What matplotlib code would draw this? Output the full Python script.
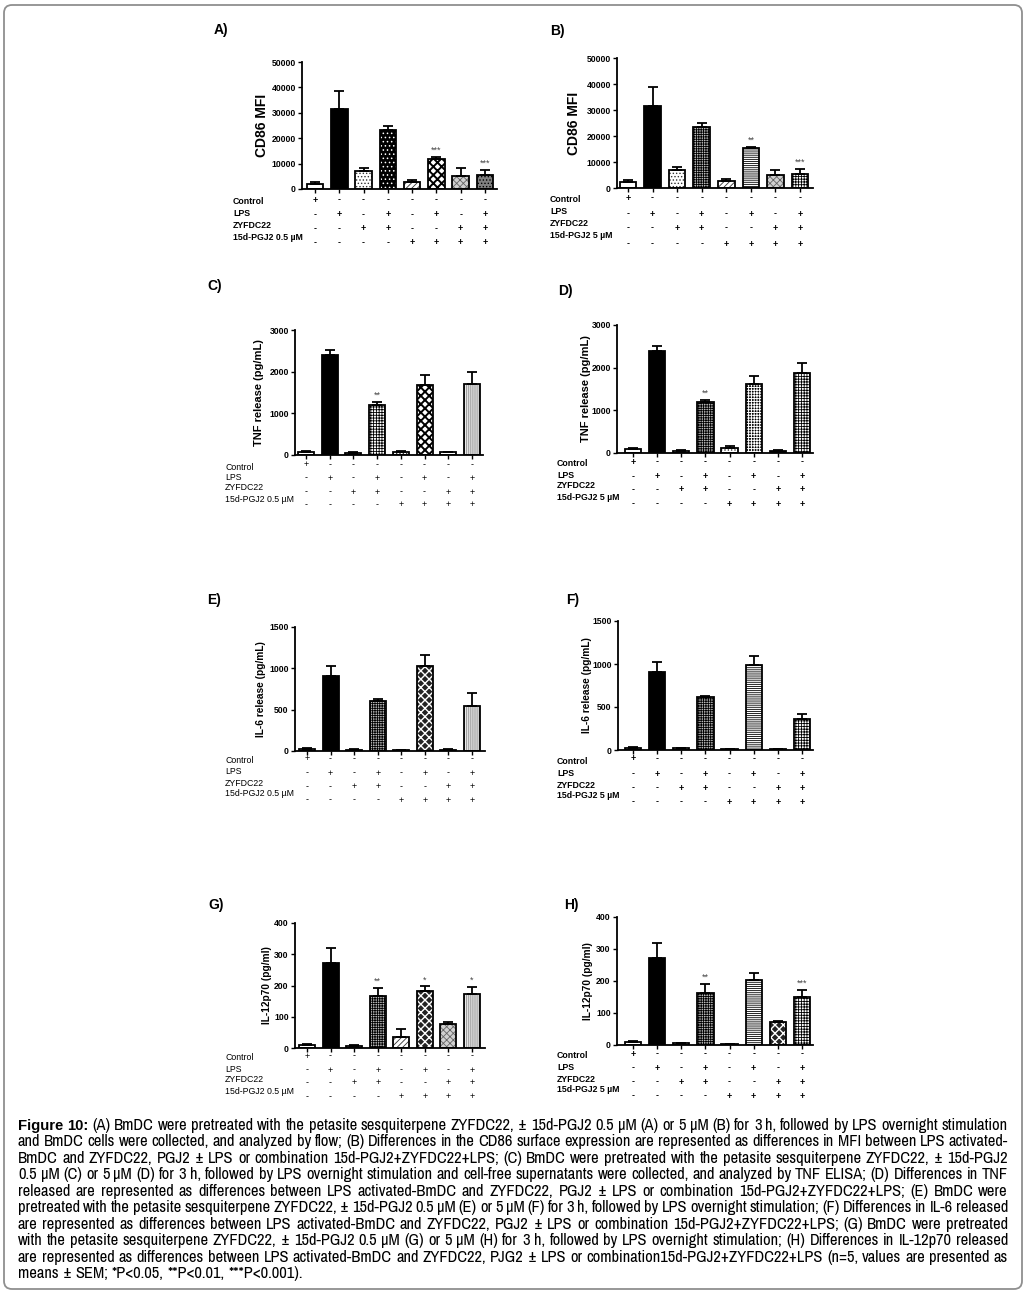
import matplotlib
matplotlib.use('Agg')
import math
import matplotlib.pyplot as plt
import numpy as np
from matplotlib import transforms as mtrans
from matplotlib.patches import FancyBboxPatch
from matplotlib import font_manager as fm
from matplotlib.font_manager import FontProperties

W, H = 1027, 1293
plt.rcParams['font.family'] = ['Liberation Sans', 'DejaVu Sans']
plt.rcParams['hatch.linewidth'] = 0.6

# ---------------- data ----------------
row_names = ['Control', 'LPS', 'ZYFDC22']
dose_low = '15d-PGJ2 0.5 µM'
dose_high = '15d-PGJ2 5 µM'
control_signs = ['+', '-', '-', '-', '-', '-', '-', '-']
lps_signs = ['-', '+', '-', '+', '-', '+', '-', '+']
zyfdc_signs = ['-', '-', '+', '+', '-', '-', '+', '+']
pgj2_signs = ['-', '-', '-', '-', '+', '+', '+', '+']

A_mean = [1800, 31400, 7050, 23400, 2900, 12000, 5200, 5500]
A_sem = [800, 7100, 1050, 1500, 600, 700, 2900, 2000]
A_sig = ['', '', '', '', '', '***', '', '***']

B_mean = [2200, 31700, 7050, 23600, 2800, 15300, 4900, 5400]
B_sem = [700, 7100, 1050, 1400, 800, 600, 1900, 1800]
B_sig = ['', '', '', '', '', '**', '', '***']

C_mean = [65, 2390, 55, 1200, 70, 1690, 64, 1710]
C_sem = [30, 140, 15, 65, 35, 230, 16, 290]
C_sig = ['', '', '', '**', '', '', '', '']

D_mean = [85, 2380, 47, 1200, 125, 1610, 40, 1865]
D_sem = [25, 130, 13, 45, 40, 205, 40, 250]
D_sig = ['', '', '', '**', '', '', '', '']

E_mean = [28, 909, 16, 607, 12, 1030, 12, 547]
E_sem = [8, 121, 8, 20, 4, 136, 8, 157]
E_sig = ['', '', '', '', '', '', '', '']

F_mean = [27, 903, 19, 612, 12, 984, 12, 364]
F_sem = [12, 116, 8, 20, 4, 113, 4, 51]
F_sig = ['', '', '', '', '', '', '', '']

G_mean = [10, 273, 7.5, 165, 35, 184, 78, 174]
G_sem = [2, 47, 2.5, 28, 27, 13, 5, 22]
G_sig = ['', '', '', '**', '', '*', '', '*']

H_mean = [9, 273, 6, 164, 3, 203, 71, 150]
H_sem = [2, 46, 1, 28, 1, 22, 5, 22]
H_sig = ['', '', '', '**', '', '', '', '***']

caption_lines = [
    "Figure 10: (A) BmDC were pretreated with the petasite sesquiterpene ZYFDC22, ± 15d-PGJ2 0.5 μM (A) or 5 μM (B) for 3 h, followed by LPS overnight stimulation",
    "and BmDC cells were collected, and analyzed by flow; (B) Differences in the CD86 surface expression are represented as differences in MFI between LPS activated-",
    "BmDC and ZYFDC22, PGJ2 ± LPS or combination 15d-PGJ2+ZYFDC22+LPS; (C) BmDC were pretreated with the petasite sesquiterpene ZYFDC22, ± 15d-PGJ2",
    "0.5 μM (C) or 5 μM (D) for 3 h, followed by LPS overnight stimulation and cell-free supernatants were collected, and analyzed by TNF ELISA; (D) Differences in TNF",
    "released are represented as differences between LPS activated-BmDC and ZYFDC22, PGJ2 ± LPS or combination 15d-PGJ2+ZYFDC22+LPS; (E) BmDC were",
    "pretreated with the petasite sesquiterpene ZYFDC22, ± 15d-PGJ2 0.5 μM (E) or 5 μM (F) for 3 h, followed by LPS overnight stimulation; (F) Differences in IL-6 released",
    "are represented as differences between LPS activated-BmDC and ZYFDC22, PGJ2 ± LPS or combination 15d-PGJ2+ZYFDC22+LPS; (G) BmDC were pretreated",
    "with the petasite sesquiterpene ZYFDC22, ± 15d-PGJ2 0.5 μM (G) or 5 μM (H) for 3 h, followed by LPS overnight stimulation; (H) Differences in IL-12p70 released",
    "are represented as differences between LPS activated-BmDC and ZYFDC22, PJG2 ± LPS or combination15d-PGJ2+ZYFDC22+LPS (n=5, values are presented as",
    "means ± SEM; *P<0.05, **P<0.01, ***P<0.001).",
]

# ---------------- styles ----------------
# name: (facecolor, hatch, hatch colour, hatch linewidth)
PATTERNS = {
    'open': ('white', None, 'black', 0.6),
    'solid': ('black', None, 'black', 0.6),
    'dots': ('white', '.....', '#333333', 0.6),
    'darkdots': ('black', '....', 'white', 0.6),
    'diag': ('white', '//////', '#333333', 0.6),
    'cross': ('white', 'xxxx', 'black', 1.4),
    'check': ('#d0d0d0', 'xxxxx', '#666666', 0.6),
    'darkcheck': ('#222222', 'xxxx', 'white', 1.0),
    'darkgray': ('#808080', '.....', 'black', 0.6),
    'grid': ('white', '++++++', 'black', 0.6),
    'dense': ('#bbbbbb', '+++++++', 'black', 0.6),
    'brick': ('white', '--------', 'black', 0.6),
    'darkbrick': ('black', '++++++', 'white', 0.7),
    'stripes': ('#9a9a9a', '||||||||', 'white', 0.6),
}

panels = [
    dict(lab='A)', mean=A_mean, sem=A_sem, sig=A_sig, ymax=50000, ystep=10000,
         ylabel='CD86 MFI', dose=dose_low,
         pats=['open', 'solid', 'dots', 'darkdots', 'diag', 'cross', 'check', 'darkgray'],
         x0=302, x1=497, c1=315, c8=485, ytop=62, ybot=189, ylx=262, labxy=(214, 30),
         rowx=233, loff=[13, 25, 36, 48], soff=[11, 26, 40, 54], ylfs=10.0, bold=True),
    dict(lab='B)', mean=B_mean, sem=B_sem, sig=B_sig, ymax=50000, ystep=10000,
         ylabel='CD86 MFI', dose=dose_high,
         pats=['open', 'solid', 'dots', 'dense', 'diag', 'brick', 'check', 'grid'],
         x0=617, x1=813, c1=628, c8=800, ytop=58, ybot=188, ylx=574, labxy=(550, 31),
         rowx=550, loff=[12, 24, 36, 48], soff=[10, 26, 40, 56], ylfs=10.0, bold=True),
    dict(lab='C)', mean=C_mean, sem=C_sem, sig=C_sig, ymax=3000, ystep=1000,
         ylabel='TNF release (pg/mL)', dose=dose_low,
         pats=['open', 'solid', 'open', 'grid', 'dots', 'cross', 'open', 'stripes'],
         x0=295, x1=483, c1=306, c8=472, ytop=330, ybot=455, ylx=259, labxy=(207, 286),
         rowx=225, loff=[12, 22, 33, 44], soff=[10, 23, 37, 50], ylfs=8.0, bold=False),
    dict(lab='D)', mean=D_mean, sem=D_sem, sig=D_sig, ymax=3000, ystep=1000,
         ylabel='TNF release (pg/mL)', dose=dose_high,
         pats=['open', 'solid', 'open', 'dense', 'dots', 'darkbrick', 'solid', 'grid'],
         x0=617, x1=813, c1=633, c8=802, ytop=325, ybot=453, ylx=586, labxy=(558, 291),
         rowx=557, loff=[11, 23, 33, 44], soff=[9, 24, 37, 51], ylfs=8.0, bold=True),
    dict(lab='E)', mean=E_mean, sem=E_sem, sig=E_sig, ymax=1500, ystep=500,
         ylabel='IL-6 release (pg/mL)', dose=dose_low,
         pats=['open', 'solid', 'open', 'dense', 'open', 'darkcheck', 'open', 'stripes'],
         x0=295, x1=485, c1=307, c8=472, ytop=627, ybot=751, ylx=261, labxy=(207, 600),
         rowx=225, loff=[9, 21, 32, 43], soff=[8, 22, 36, 49], ylfs=7.3, bold=False),
    dict(lab='F)', mean=F_mean, sem=F_sem, sig=F_sig, ymax=1500, ystep=500,
         ylabel='IL-6 release (pg/mL)', dose=dose_high,
         pats=['open', 'solid', 'open', 'dense', 'open', 'brick', 'open', 'grid'],
         x0=618, x1=813, c1=633, c8=802, ytop=621, ybot=750, ylx=587, labxy=(566, 600),
         rowx=557, loff=[11, 23, 35, 46], soff=[9, 24, 38, 52], ylfs=7.3, bold=True),
    dict(lab='G)', mean=G_mean, sem=G_sem, sig=G_sig, ymax=400, ystep=100,
         ylabel='IL-12p70 (pg/ml)', dose=dose_low,
         pats=['open', 'solid', 'open', 'dense', 'diag', 'darkcheck', 'check', 'stripes'],
         x0=295, x1=485, c1=307, c8=472, ytop=923, ybot=1048, ylx=267, labxy=(208, 905),
         rowx=225, loff=[9, 21, 32, 43], soff=[8, 22, 35, 49], ylfs=7.3, bold=False),
    dict(lab='H)', mean=H_mean, sem=H_sem, sig=H_sig, ymax=400, ystep=100,
         ylabel='IL-12p70 (pg/ml)', dose=dose_high,
         pats=['open', 'solid', 'open', 'dense', 'open', 'brick', 'darkcheck', 'grid'],
         x0=617, x1=813, c1=633, c8=802, ytop=917, ybot=1045, ylx=588, labxy=(564, 905),
         rowx=557, loff=[10, 22, 34, 45], soff=[9, 23, 37, 51], ylfs=7.3, bold=True),
]

fig = plt.figure(figsize=(W / 100, H / 100), dpi=100)
fig.patch.set_facecolor('white')

def fy(y):
    return 1 - y / H

sign_rows = [control_signs, lps_signs, zyfdc_signs, pgj2_signs]

for p in panels:
    x0, x1, ytop, ybot = p['x0'], p['x1'], p['ytop'], p['ybot']
    ax = fig.add_axes([x0 / W, fy(ybot), (x1 - x0) / W, (ybot - ytop) / H])
    s = (p['c8'] - p['c1']) / 7.0
    ax.set_xlim((x0 - p['c1']) / s, (x1 - p['c1']) / s)
    ax.set_ylim(0, p['ymax'])
    xs = np.arange(len(p['mean']))
    for i, (m, pat) in enumerate(zip(p['mean'], p['pats'])):
        fc, h, hc, hlw = PATTERNS[pat]
        bars = ax.bar(i, m, width=0.68, color=fc, edgecolor=hc, hatch=h,
                      linewidth=0, zorder=2)
        for b in bars:
            if hasattr(b, 'set_hatch_linewidth'):
                b.set_hatch_linewidth(hlw)
        ax.bar(i, m, width=0.68, fill=False, edgecolor='black', linewidth=1.3, zorder=3)
    ax.errorbar(xs, p['mean'], yerr=[np.zeros(len(xs)), p['sem']], fmt='none',
                ecolor='black', elinewidth=1.3, capsize=3.5, capthick=1.3,
                zorder=4, clip_on=False)
    for i, (m, e, sg) in enumerate(zip(p['mean'], p['sem'], p['sig'])):
        if sg:
            ax.annotate(sg, (i, m + e), xytext=(0, 1.5), textcoords='offset points',
                        ha='center', va='bottom', fontsize=6.5, color='#444444',
                        annotation_clip=False)
    for sp in ['top', 'right']:
        ax.spines[sp].set_visible(False)
    for sp in ['left', 'bottom']:
        ax.spines[sp].set_linewidth(1.3)
    ax.set_xticks(xs)
    ax.set_xticklabels([])
    ax.tick_params(axis='x', length=3, width=1.0, direction='out')
    ax.set_yticks(np.arange(0, p['ymax'] + 1, p['ystep']))
    ax.tick_params(axis='y', length=3, width=1.0, direction='out', pad=1.5,
                   labelsize=6.2)
    for t in ax.get_yticklabels():
        t.set_fontweight('bold')
    ax.set_facecolor('none')

    fig.text(p['ylx'] / W, fy((ytop + ybot) / 2), p['ylabel'], rotation=90,
             ha='center', va='center', fontsize=p['ylfs'], fontweight='bold')
    fig.text(p['labxy'][0] / W, fy(p['labxy'][1]), p['lab'], ha='left', va='center',
             fontsize=10, fontweight='bold')

    tr = mtrans.blended_transform_factory(ax.transData, fig.transFigure)
    names = row_names + [p['dose']]
    wt = 'bold' if p['bold'] else 'normal'
    for r, (nm, lo, so) in enumerate(zip(names, p['loff'], p['soff'])):
        fig.text(p['rowx'] / W, fy(ybot + lo), nm, ha='left', va='center',
                 fontsize=6.3, fontweight=wt)
        for i, sgn in enumerate(sign_rows[r]):
            ax.text(i, fy(ybot + so), sgn, transform=tr, ha='center', va='center',
                    fontsize=6.5, fontweight=wt, clip_on=False)

# ---------------- caption (justified) ----------------
ttf = fm.fontManager.ttflist
names_avail = {f.name for f in ttf}
narrow_candidates = ['Liberation Sans Narrow', 'Arial Narrow', 'Archivo Narrow',
                     'Roboto Condensed', 'PT Sans Narrow', 'Pragati Narrow',
                     'Fira Sans Condensed', 'IBM Plex Sans Condensed', 'Encode Sans Condensed']
cap_main = next((n for n in narrow_candidates if n in names_avail), 'Liberation Sans')
has_bold = any(f.name == cap_main and (f.weight in ('bold', 700) or
               (isinstance(f.weight, int) and f.weight >= 600)) for f in ttf)
fam_normal = [cap_main, 'Liberation Sans', 'DejaVu Sans']
fam_bold = fam_normal if has_bold else ['Liberation Sans', 'DejaVu Sans']
cap_fs = 9.4
cap_left, cap_right = 18, 1008
cap_y0, cap_dy = 1124, 16.45
renderer = fig.canvas.get_renderer()
ident = mtrans.IdentityTransform()

def fam_of(weight):
    return fam_bold if weight == 'bold' else fam_normal

def size_of(fs, weight):
    return fs if (weight != 'bold' or has_bold) else fs * 0.9

def measure(txt, fs, weight):
    t = fig.text(0, 0, txt, fontsize=size_of(fs, weight), fontweight=weight,
                 family=fam_of(weight))
    w = t.get_window_extent(renderer).width
    t.remove()
    return w

def descent(txt, fs, weight):
    prop = FontProperties(family=fam_of(weight), size=size_of(fs, weight), weight=weight)
    _, _, d = renderer.get_text_width_height_descent(txt, prop, ismath=False)
    return d

def line_words(li, line):
    ws = line.split(' ')
    out = []
    for k, w in enumerate(ws):
        bold = (li == 0 and k < 2)
        out.append((w, 'bold' if bold else 'normal'))
    return out

# scale font so that the widest line fits with natural word spacing
for _ in range(4):
    space_w = measure('x x', cap_fs, 'normal') - measure('xx', cap_fs, 'normal')
    worst = 0
    for li, line in enumerate(caption_lines[:-1]):
        ws = line_words(li, line)
        tot = sum(measure(w, cap_fs, wt) for w, wt in ws) + space_w * (len(ws) - 1) * 0.85
        worst = max(worst, tot / (cap_right - cap_left))
    if abs(worst - 1) < 0.005:
        break
    cap_fs = cap_fs / worst

space_w = measure('x x', cap_fs, 'normal') - measure('xx', cap_fs, 'normal')
cap_px = cap_fs * 100 / 72.0
for li, line in enumerate(caption_lines):
    ws = line_words(li, line)
    widths = [measure(w, cap_fs, wt) for w, wt in ws]
    ybase = round(H - (cap_y0 + li * cap_dy + 0.36 * cap_px))
    if li == len(caption_lines) - 1:
        gap = space_w
    else:
        gap = (cap_right - cap_left - sum(widths)) / (len(ws) - 1)
    x = cap_left
    for (w, wt), wd in zip(ws, widths):
        d = descent(w, cap_fs, wt)
        yw = ybase + (d - math.floor(d))
        fig.text(x, yw, w, transform=ident, ha='left', va='baseline',
                 fontsize=size_of(cap_fs, wt), fontweight=wt, family=fam_of(wt))
        x += wd + gap

# ---------------- border ----------------
border = FancyBboxPatch((4, 4), W - 9, H - 9, boxstyle='round,pad=0,rounding_size=8',
                        fill=False, edgecolor='#8f8f8f', linewidth=1.3)
border.set_transform(ident)
fig.add_artist(border)

fig.savefig('out.png', dpi=100, facecolor='white')
